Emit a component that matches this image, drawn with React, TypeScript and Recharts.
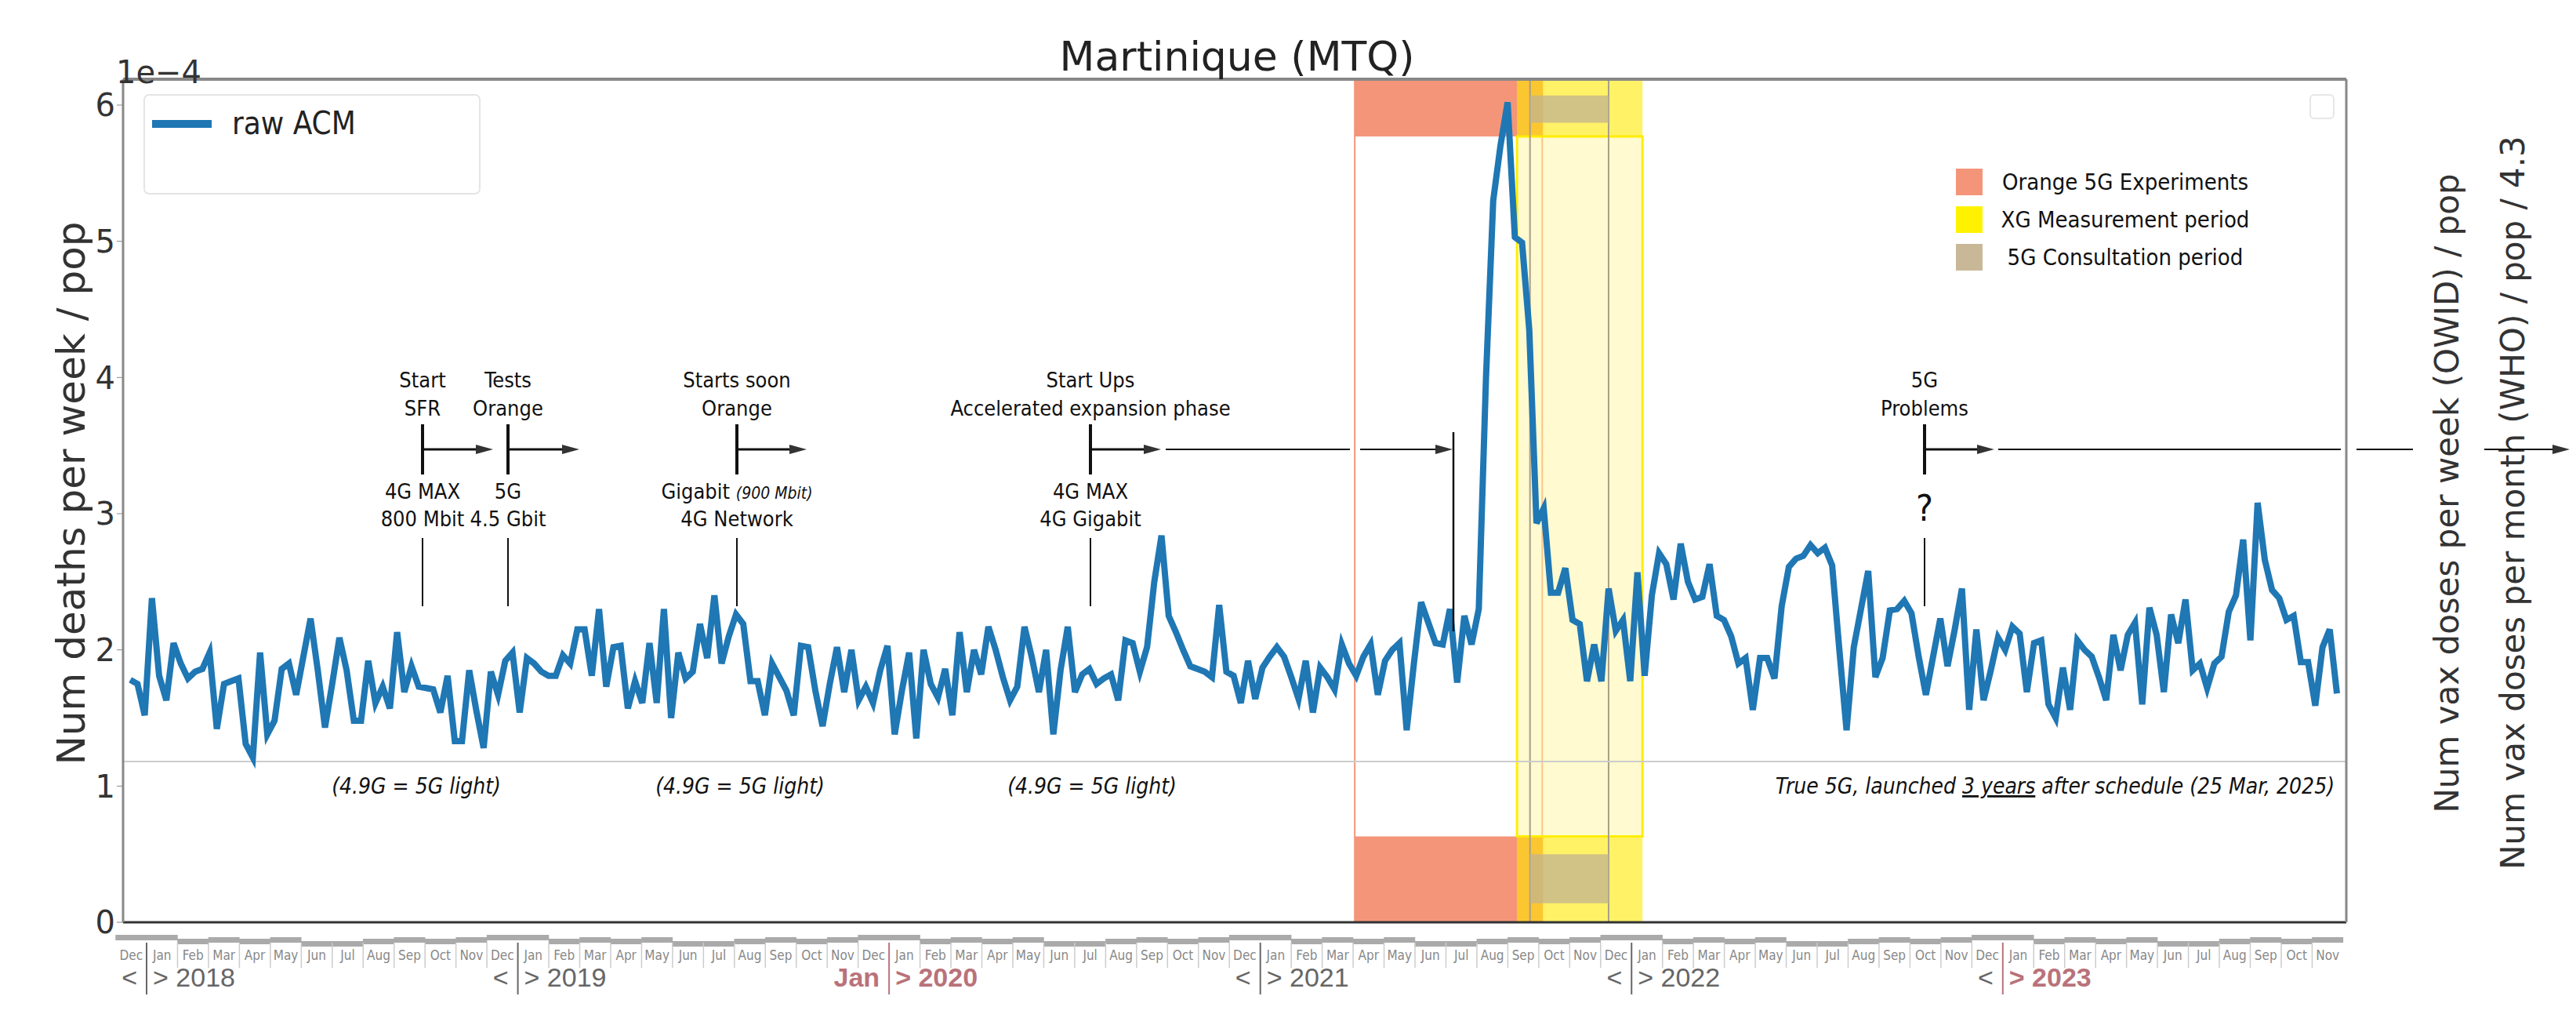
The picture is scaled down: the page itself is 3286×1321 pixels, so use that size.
import React from 'react'
import { ComposedChart, Line, XAxis, YAxis, ReferenceArea, ReferenceLine } from 'recharts'

// weekly raw ACM (x1e-4); week 0 ~ early Dec 2017
const segA = [1.78,1.75,1.52,2.38,1.81,1.63,2.05,1.9,1.79,1.84,1.86,1.98,1.42,1.75,1.77,1.79,1.31,1.21,1.98,1.38,1.48,1.86,1.9,1.67,1.95,2.23,1.85,1.43,1.75,2.09,1.85,1.48,1.48,1.92,1.61,1.73,1.57,2.13,1.69,1.88,1.73,1.72,1.71,1.54,1.81,1.33,1.33,1.85,1.55,1.28,1.84,1.67,1.92,1.98,1.54,1.94,1.9,1.84,1.81,1.81,1.96,1.9,2.15,2.15,1.81,2.3,1.73,2.02,2.03,1.57,1.77,1.61,2.05,1.61,2.3,1.5]
const segB = [1.98,1.79,1.84,2.19,1.94,2.4,1.9,2.1,2.26,2.19,1.77,1.77,1.52,1.9,1.8,1.7,1.52,2.03,2.02,1.7,1.44,1.75,2.02,1.69,2.0,1.63,1.73,1.61,1.85,2.03,1.38,1.7,1.98,1.35,2.0,1.75,1.65,1.86,1.52,2.13,1.69,2.0,1.82,2.17,2.0,1.8,1.63,1.73,2.17,1.95,1.69,2.0,1.38,1.85,2.17,1.69,1.82,1.86,1.75,1.79,1.82,1.63,2.07,2.05,1.84,2.02,2.5,2.84,2.25,2.13,2.0,1.88,1.86,1.84,1.8]
const segC = [2.33,1.84,1.81,1.61,1.92,1.64,1.87,1.95,2.02,1.95,1.8,1.64,1.92,1.54,1.87,1.8,1.71,2.04,1.9,1.81,1.95,2.04,1.67,1.92,2.0,2.05,1.41,1.9,2.35,2.2,2.05,2.04,2.3,1.76,2.25,2.04,2.3,4.0,5.3,5.7,6.02,5.03,4.99,4.35,2.93,3.04,2.42,2.42,2.6,2.22,2.19,1.77,2.04,1.77,2.45,2.14,2.22,1.77,2.57,1.81,2.4,2.71,2.63,2.37,2.78,2.5,2.37,2.39,2.63,2.25,2.22,2.1,1.9,1.94,1.56,1.94,1.94,1.79]
const segD = [2.32,2.61,2.67,2.69,2.77,2.71,2.75,2.62,2.0,1.41,2.02,2.3,2.58,1.8,1.94,2.29,2.3,2.36,2.27,1.95,1.67,1.95,2.23,1.88,2.15,2.45,1.56,2.15,1.63,1.85,2.09,2.0,2.17,2.12,1.69,2.05,2.07,1.6,1.5,1.87,1.56,2.07,2.0,1.95,1.8,1.63,2.11,1.85,2.11,2.2,1.6,2.31,2.11,1.69,2.26,2.05,2.37,1.85,1.9,1.72,1.9,1.95,2.28,2.4,2.81,2.07,3.08,2.66,2.44,2.38,2.22,2.25,1.91,1.91,1.59,2.02,2.15,1.68]
const segStarts = [1, 77, 152, 230]

const monthNames = ['Jan','Feb','Mar','Apr','May','Jun','Jul','Aug','Sep','Oct','Nov','Dec']
const leftTicks = [0, 1, 2, 3, 4, 5, 6]
const rightTicks = [0, 0.2, 0.4, 0.6, 0.8, 1.0]
const years = [2018, 2019, 2020, 2021, 2022, 2023]
const legendItems = [
  { label: 'Orange 5G Experiments', color: '#f4957a' },
  { label: 'XG Measurement period', color: '#fff200' },
  { label: '5G Consultation period', color: '#c9b898' },
]

const rows: { w: number; acm: number }[] = []
;[segA, segB, segC, segD].forEach((s, i) => s.forEach((v, j) => rows.push({ w: segStarts[i] + j, acm: v })))

// month k (0 = Dec 2017) centres, in weeks
const WPM = 4.29
const monthCenters = Array.from({ length: 72 }, (_, k) => 3.26 + WPM * (k - 1) + WPM / 2)
const HALF_PX = 19.7

const AX = 'DejaVu Sans, sans-serif'
const NARROW = '"Liberation Sans Narrow", "DejaVu Sans Condensed", "Roboto Condensed", sans-serif'

function MonthTick(props: any) {
  const { x, y, index } = props
  const name = monthNames[(index + 11) % 12]
  const off = name === 'Dec' || name === 'Jan' ? 8 : name === 'Jun' || name === 'Jul' ? 16 : index % 2 ? 11 : 13
  const isJan = name === 'Jan'
  const bx = x - HALF_PX
  let year = null
  if (isJan) {
    const yr = years[Math.floor((index - 1) / 12)]
    const rose = '#b9727a'
    const special = yr === 2020
    const hot = yr === 2020 || yr === 2023
    year = (
      <g>
        <line x1={bx} x2={bx} y1={y + 18} y2={y + 84} stroke={hot ? rose : '#666'} strokeWidth={2} />
        <text x={bx - 12} y={y + 74} textAnchor="end" fontSize={34} fill={special ? rose : '#666'} fontWeight={special ? 700 : 400} fontFamily="Liberation Sans, sans-serif">{special ? 'Jan' : '<'}</text>
        <text x={bx + 8} y={y + 74} textAnchor="start" fontSize={34} fill={hot ? rose : '#666'} fontWeight={hot ? 700 : 400} fontFamily="Liberation Sans, sans-serif">{'> ' + yr}</text>
      </g>
    )
  }
  return (
    <g>
      <rect x={x - 20} y={y + off} width={40} height={7} fill="#aaa" />
      {!isJan && index > 0 && <line x1={bx} x2={bx} y1={y + 18} y2={y + 50} stroke="#ccc" strokeWidth={1.5} />}
      <text x={x} y={y + 40} textAnchor="middle" fontSize={17} fill="#888" fontFamily={NARROW}>{name}</text>
      {year}
    </g>
  )
}

function Arrow({ x1, x2, y, w = 3, head = 22 }: any) {
  return (
    <g>
      <line x1={x1} x2={x2 - head + 2} y1={y} y2={y} stroke="#111" strokeWidth={w} />
      <polygon points={`${x2},${y} ${x2 - head},${y - 6} ${x2 - head},${y + 6}`} fill="#333" />
    </g>
  )
}

function Event({ x, top, bottom, arrowTo }: any) {
  return (
    <g fontFamily={NARROW} fontSize={27} fill="#111" textAnchor="middle">
      <text x={x} y={486}>{top[0]}</text>
      <text x={x} y={522}>{top[1]}</text>
      <line x1={x} x2={x} y1={533} y2={597} stroke="#111" strokeWidth={4} />
      <Arrow x1={x} x2={arrowTo} y={565} />
      {bottom}
      <line x1={x} x2={x} y1={678} y2={765} stroke="#111" strokeWidth={2} />
    </g>
  )
}

export default function App() {
  return (
    <div style={{ position: 'relative', width: 3270, height: 1305, background: '#fff' }}>
      <ComposedChart width={3270} height={1305} data={rows} margin={{ top: 93, right: 0, left: 0, bottom: 37 }}>
        <XAxis xAxisId="m" dataKey="w" type="number" domain={[0, 308.3]} ticks={monthCenters} tick={<MonthTick />} tickLine={false} axisLine={{ stroke: '#333', strokeWidth: 3 }} height={100} interval={0} />
        <YAxis yAxisId="l" domain={[0, 6.19]} ticks={leftTicks} width={149} tick={{ fontSize: 40, fill: '#333', fontFamily: AX }} axisLine={{ stroke: '#888', strokeWidth: 3 }} tickLine={{ stroke: '#888' }} tickSize={8} />
        <YAxis yAxisId="r" orientation="right" domain={[0, 1]} ticks={rightTicks} width={285} tickFormatter={(v: number) => v.toFixed(1)} tick={{ fontSize: 40, fill: '#333', fontFamily: AX }} axisLine={{ stroke: '#888', strokeWidth: 3 }} tickLine={{ stroke: '#888' }} tickSize={8} />
        <ReferenceLine xAxisId="m" yAxisId="l" y={6.19} stroke="#888" strokeWidth={4} />
        <ReferenceLine xAxisId="m" yAxisId="l" y={1.18} stroke="#ccc" strokeWidth={2} />
        {/* orange experiments */}
        <ReferenceArea xAxisId="m" yAxisId="l" x1={170.8} x2={196.8} y1={0} y2={6.19} fill="none" stroke="#f4957a" strokeWidth={2} />
        <ReferenceArea xAxisId="m" yAxisId="l" x1={170.8} x2={196.8} y1={5.77} y2={6.19} fill="#f4957a" fillOpacity={1} />
        <ReferenceArea xAxisId="m" yAxisId="l" x1={170.8} x2={196.8} y1={0} y2={0.63} fill="#f4957a" fillOpacity={1} />
        <Line xAxisId="m" yAxisId="l" dataKey="acm" type="linear" stroke="#1f77b4" strokeWidth={8} dot={false} isAnimationActive={false} />
        {/* XG measurement */}
        <ReferenceArea xAxisId="m" yAxisId="l" x1={193.3} x2={210.7} y1={0.63} y2={5.77} fill="#fff6a0" fillOpacity={0.5} stroke="#ffee00" strokeWidth={3} />
        <ReferenceArea xAxisId="m" yAxisId="l" x1={193.3} x2={210.7} y1={5.77} y2={6.19} fill="#ffea00" fillOpacity={0.6} />
        <ReferenceArea xAxisId="m" yAxisId="l" x1={193.3} x2={210.7} y1={0} y2={0.63} fill="#ffea00" fillOpacity={0.6} />
        {/* 5G consultation */}
        <ReferenceArea xAxisId="m" yAxisId="l" x1={195.1} x2={206} y1={0} y2={6.19} fill="none" stroke="#a89e8a" strokeWidth={2} />
        <ReferenceArea xAxisId="m" yAxisId="l" x1={195.1} x2={206} y1={5.87} y2={6.07} fill="#c2b390" fillOpacity={0.75} />
        <ReferenceArea xAxisId="m" yAxisId="l" x1={195.1} x2={206} y1={0.14} y2={0.5} fill="#c2b390" fillOpacity={0.75} />
      </ComposedChart>

      <svg width={3270} height={1305} style={{ position: 'absolute', left: 0, top: 0, pointerEvents: 'none' }}>
        <text x={1570} y={82} textAnchor="middle" fontSize={52} fill="#222" fontFamily={AX}>Martinique (MTQ)</text>
        <text x={140} y={98} fontSize={40} fill="#333" fontFamily={AX}>1e−4</text>
        <text transform="translate(100,621) rotate(-90)" textAnchor="middle" fontSize={50} fill="#333" fontFamily={AX}>Num deaths per week / pop</text>
        <text transform="translate(3128,621) rotate(-90)" textAnchor="middle" fontSize={42} fill="#333" fontFamily={AX}>Num vax doses per week (OWID) / pop</text>
        <text transform="translate(3212,633) rotate(-90)" textAnchor="middle" fontSize={42} fill="#333" fontFamily={AX}>Num vax doses per month (WHO) / pop / 4.3</text>

        <rect x={176} y={113} width={428} height={126} rx={6} fill="#fff" fillOpacity={0.8} stroke="#e4e4e4" strokeWidth={2} />
        <line x1={186} x2={262} y1={150} y2={150} stroke="#1f77b4" strokeWidth={10} />
        <text x={288} y={163} fontSize={40} fill="#222" fontFamily={NARROW}>raw ACM</text>
        <rect x={2939} y={113} width={30} height={30} rx={5} fill="none" stroke="#e6e6e6" strokeWidth={2} />

        {legendItems.map((it, i) => (
          <g key={it.label}>
            <rect x={2487} y={207 + i * 48} width={34} height={34} fill={it.color} />
            <text x={2703} y={234 + i * 48} textAnchor="middle" fontSize={29} fill="#111" fontFamily={NARROW}>{it.label}</text>
          </g>
        ))}

        <Event x={531} top={['Start', 'SFR']} arrowTo={621} bottom={<><text x={531} y={628}>4G MAX</text><text x={531} y={663}>800 Mbit</text></>} />
        <Event x={640} top={['Tests', 'Orange']} arrowTo={731} bottom={<><text x={640} y={628}>5G</text><text x={640} y={663}>4.5 Gbit</text></>} />
        <Event x={932} top={['Starts soon', 'Orange']} arrowTo={1021} bottom={<><text x={932} y={628}>Gigabit <tspan fontStyle="italic" fontSize={21}>(900 Mbit)</tspan></text><text x={932} y={663}>4G Network</text></>} />
        <Event x={1383} top={['Start Ups', 'Accelerated expansion phase']} arrowTo={1473} bottom={<><text x={1383} y={628}>4G MAX</text><text x={1383} y={663}>4G Gigabit</text></>} />
        <line x1={1479} x2={1714} y1={565} y2={565} stroke="#111" strokeWidth={2} />
        <Arrow x1={1727} x2={1845} y={565} w={2} />
        <line x1={1846} x2={1846} y1={543} y2={797} stroke="#111" strokeWidth={2.5} />
        <Event x={2447} top={['5G', 'Problems']} arrowTo={2536} bottom={<text x={2447} y={656} fontSize={46}>?</text>} />
        <line x1={2541} x2={2978} y1={565} y2={565} stroke="#111" strokeWidth={2} />
        <line x1={2998} x2={3070} y1={565} y2={565} stroke="#111" strokeWidth={2} />
        <Arrow x1={3161} x2={3270} y={565} w={2} />

        <g fontFamily={NARROW} fontSize={28} fontStyle="italic" fill="#111">
          <text x={523} y={1004} textAnchor="middle">(4.9G = 5G light)</text>
          <text x={936} y={1004} textAnchor="middle">(4.9G = 5G light)</text>
          <text x={1385} y={1004} textAnchor="middle">(4.9G = 5G light)</text>
          <text x={2970} y={1004} textAnchor="end">True 5G, launched <tspan textDecoration="underline">3 years</tspan> after schedule  (25 Mar, 2025)</text>
        </g>
      </svg>
    </div>
  )
}
